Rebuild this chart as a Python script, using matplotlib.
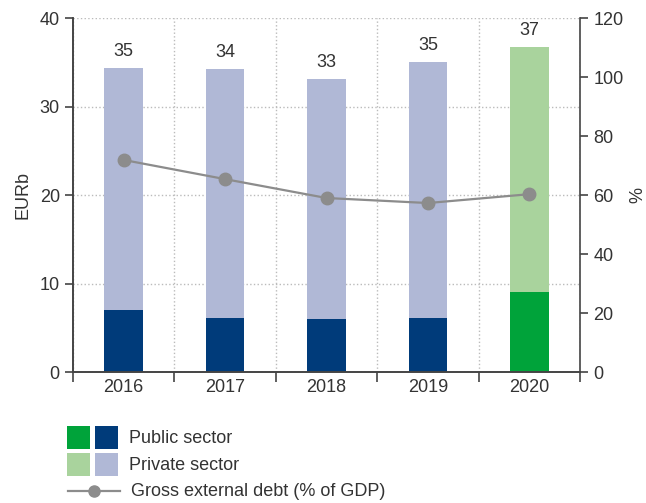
import matplotlib
matplotlib.use("Agg")
import matplotlib.pyplot as plt
from matplotlib.patches import Rectangle
from matplotlib.lines import Line2D
import numpy as np

plt.rcParams['font.family'] = ['Liberation Sans', 'DejaVu Sans']

# data
years = ['2016', '2017', '2018', '2019', '2020']
public = [7.0, 6.1, 6.0, 6.1, 9.0]
private = [27.35, 28.1, 27.1, 28.9, 27.7]
totals = [35, 34, 33, 35, 37]
ged_pct = [71.9, 65.4, 59.0, 57.3, 60.3]

navy = '#003b7a'
lavender = '#b0b8d6'
green = '#00a33a'
lightgreen = '#a9d39d'
grey = '#8c8c8c'
txt = '#333333'
fs = 13

fig = plt.figure(figsize=(6.46, 5.03), dpi=100)
ax = fig.add_axes([0.113, 0.2604, 0.785, 0.7036])
ax2 = ax.twinx()

x = np.arange(len(years))
pub_col = [navy] * 4 + [green]
priv_col = [lavender] * 4 + [lightgreen]
ax.bar(x, public, width=0.38, color=pub_col, zorder=2)
ax.bar(x, private, width=0.38, bottom=public, color=priv_col, zorder=2)
for i, t in enumerate(totals):
    ax.text(x[i], public[i] + private[i] + 0.9, str(t), ha='center', va='bottom',
            fontsize=fs, color=txt)

ax.set_xlim(-0.5, 4.5)
ax.set_ylim(0, 40)
ax.set_yticks(range(0, 41, 10))
ax.set_xticks(x)
ax.set_xticklabels(years)
ax.set_xticks(np.arange(-0.5, 4.6, 1), minor=True)
ax.tick_params(axis='x', which='major', length=0, pad=5, labelsize=fs, colors=txt)
ax.tick_params(axis='x', which='minor', length=7, width=1.2, color='#444444')
ax.tick_params(axis='y', length=6, width=1.2, labelsize=fs, colors=txt, color='#444444')
ax.grid(axis='y', linestyle=':', color='#bbbbbb', linewidth=1, zorder=0)
ax.grid(axis='x', which='minor', linestyle=':', color='#bbbbbb', linewidth=1, zorder=0)
ax.set_ylabel('EURb', fontsize=fs, color=txt, labelpad=6)

ax2.plot(x, ged_pct, color=grey, linewidth=1.6, marker='o', markersize=9, zorder=3)
ax2.set_ylim(0, 120)
ax2.set_yticks(range(0, 121, 20))
ax2.tick_params(axis='y', length=6, width=1.2, labelsize=fs, colors=txt, color='#444444')
ax2.set_ylabel('%', fontsize=fs, color=txt, labelpad=4)

for a in (ax, ax2):
    a.spines['top'].set_visible(False)
    for s in ('left', 'right', 'bottom'):
        a.spines[s].set_color('#444444')
        a.spines[s].set_linewidth(1.2)
ax.spines['right'].set_visible(False)

# legend drawn by hand below the plot
W, H = 646, 503
def px(x0, y0):
    return x0 / W, 1 - y0 / H
sq = 23
rows = [(426, green, navy, 'Public sector'), (453, lightgreen, lavender, 'Private sector')]
for y0, c1, c2, label in rows:
    for x0, c in ((67, c1), (95, c2)):
        fx, fy = px(x0, y0 + sq)
        fig.patches.append(Rectangle((fx, fy), sq / W, sq / H, transform=fig.transFigure,
                                     facecolor=c, edgecolor='none'))
    fig.text(*px(129, y0 + sq / 2 + 1), label, fontsize=fs, color=txt, va='center')
ly = 491
fig.lines.append(Line2D([68 / W, 120 / W], [1 - ly / H] * 2, transform=fig.transFigure,
                        color=grey, linewidth=1.6))
fig.lines.append(Line2D([94 / W], [1 - ly / H], transform=fig.transFigure, color=grey,
                        marker='o', markersize=8))
fig.text(*px(131, ly), 'Gross external debt (% of GDP)', fontsize=fs, color=txt, va='center')

fig.savefig('out.png', dpi=100)
